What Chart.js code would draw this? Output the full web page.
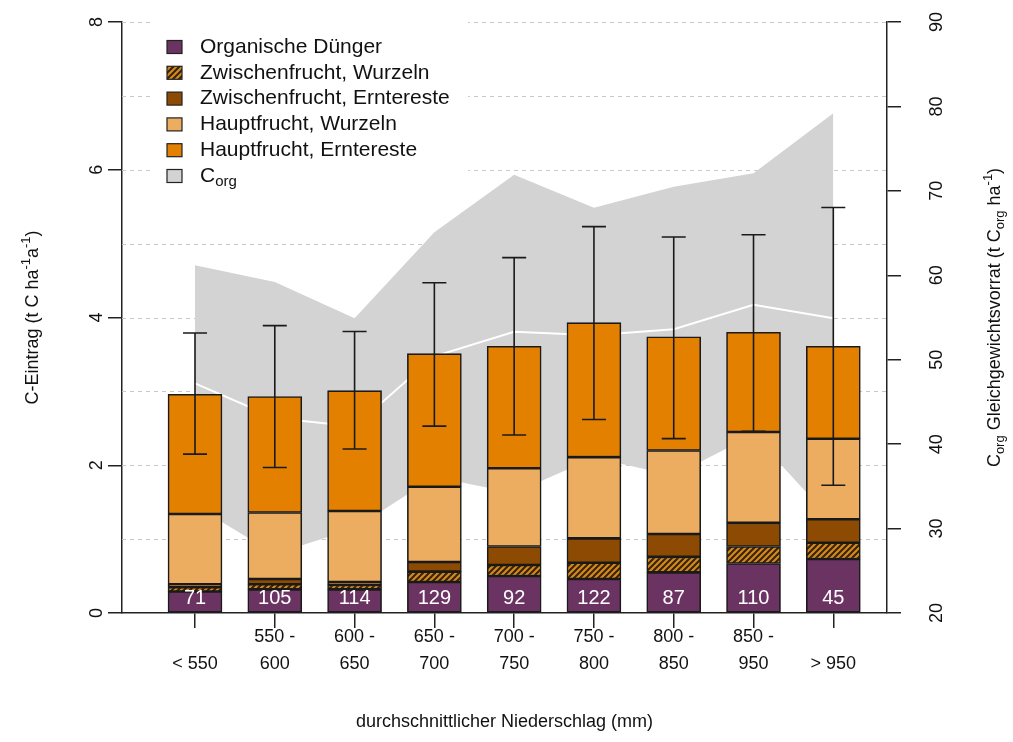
<!DOCTYPE html>
<html>
<head>
<meta charset="utf-8">
<script src="https://cdn.jsdelivr.net/npm/chart.js@4.4.1/dist/chart.umd.min.js"></script>
<style>
  html, body { margin: 0; padding: 0; background: #fff; }
  #wrap { width: 1013px; height: 742px; }
</style>
</head>
<body>
<div id="wrap"><canvas id="chart"></canvas></div>
<script>
// precipitation classes (two-line tick labels)
const categories = [
  ['', '< 550'], ['550 -', '600'], ['600 -', '650'], ['650 -', '700'], ['700 -', '750'],
  ['750 -', '800'], ['800 -', '850'], ['850 -', '950'], ['', '> 950']
];
const counts = [71, 105, 114, 129, 92, 122, 87, 110, 45];

// C input, t C ha-1 a-1 (stacked from bottom)
const organischeDuenger     = [0.29, 0.32, 0.32, 0.42, 0.50, 0.46, 0.55, 0.67, 0.73];
const zwischenWurzeln       = [0.06, 0.07, 0.06, 0.14, 0.15, 0.22, 0.21, 0.23, 0.22];
const zwischenErntereste    = [0.04, 0.07, 0.04, 0.13, 0.25, 0.33, 0.31, 0.32, 0.32];
const hauptWurzeln          = [0.95, 0.90, 0.96, 1.02, 1.06, 1.10, 1.13, 1.23, 1.09];
const hauptErntereste       = [1.62, 1.57, 1.63, 1.80, 1.65, 1.82, 1.54, 1.35, 1.25];

// error bars on total input
const errLow  = [2.15, 1.97, 2.22, 2.53, 2.41, 2.62, 2.36, 2.46, 1.73];
const errHigh = [3.79, 3.89, 3.81, 4.47, 4.81, 5.23, 5.09, 5.12, 5.49];

// Corg equilibrium stock, t Corg ha-1 (right axis)
const corgMax  = [61.2, 59.2, 54.9, 65.1, 71.9, 68.0, 70.5, 72.1, 79.2];
const corgMin  = [32.7, 27.0, 30.0, 36.1, 34.2, 38.4, 36.3, 41.1, 30.8];
const corgMean = [47.2, 43.1, 42.1, 50.4, 53.3, 52.9, 53.6, 56.5, 54.9];

const leftTicks = [0, 2, 4, 6, 8];
const rightTicks = [20, 30, 40, 50, 60, 70, 80, 90];

const FONT = '"Liberation Sans", Arial, sans-serif';
const AXIS = '#222';

function hatchPattern() {
  const c = document.createElement('canvas');
  c.width = 6; c.height = 6;
  const g = c.getContext('2d');
  g.fillStyle = '#cf8a22';
  g.fillRect(0, 0, 6, 6);
  g.strokeStyle = '#3b2000';
  g.lineWidth = 2;
  g.beginPath();
  g.moveTo(-1, 7); g.lineTo(7, -1);
  g.moveTo(-4, 4); g.lineTo(4, -4);
  g.moveTo(2, 10); g.lineTo(10, 2);
  g.stroke();
  return document.getElementById('chart').getContext('2d').createPattern(c, 'repeat');
}
const hatch = hatchPattern();

const colOrg = '#6b3361';
const colZE = '#8c4a03';
const colHW = '#edad60';
const colHE = '#e38000';
const colCorg = '#d3d3d3';

const pts = arr => arr.map((v, i) => ({ x: i, y: v }));

function barSet(label, values, color) {
  return {
    type: 'bar', label, data: pts(values), backgroundColor: color,
    borderColor: '#1a1a1a', borderWidth: 1.6, borderSkipped: false,
    barThickness: 54, stack: 'c', yAxisID: 'y', order: 0
  };
}

function richWidth(ctx, parts, size) {
  let w = 0;
  parts.forEach(p => {
    ctx.font = (p.s ? Math.round(size * 0.72) : size) + 'px ' + FONT;
    w += ctx.measureText(p.t).width;
  });
  return w;
}

function drawRich(ctx, parts, x, y, size, rot) {
  ctx.save();
  ctx.translate(x, y);
  ctx.rotate(rot);
  ctx.textBaseline = 'middle';
  ctx.textAlign = 'left';
  let cx = -richWidth(ctx, parts, size) / 2;
  parts.forEach(p => {
    ctx.font = (p.s ? Math.round(size * 0.72) : size) + 'px ' + FONT;
    const dy = p.s === 'sup' ? -size * 0.38 : p.s === 'sub' ? size * 0.3 : 0;
    ctx.fillText(p.t, cx, dy);
    cx += ctx.measureText(p.t).width;
  });
  ctx.restore();
}

const extras = {
  id: 'extras',
  beforeDatasetsDraw(chart) {
    const { ctx, chartArea, scales } = chart;
    ctx.save();
    ctx.strokeStyle = '#c9c9c9';
    ctx.lineWidth = 1;
    ctx.setLineDash([4, 4]);
    for (let v = 1; v <= 8; v++) {
      const y = Math.round(scales.y.getPixelForValue(v)) + 0.5;
      ctx.beginPath();
      ctx.moveTo(chartArea.left, y);
      ctx.lineTo(chartArea.right, y);
      ctx.stroke();
    }
    ctx.setLineDash([]);
    // white legend background hides the grid behind it
    ctx.fillStyle = '#fff';
    ctx.fillRect(150, 16, 318, 180);
    ctx.restore();
  },
  afterDatasetsDraw(chart) {
    const { ctx, scales } = chart;
    ctx.save();
    // error bars
    ctx.strokeStyle = '#1a1a1a';
    ctx.lineWidth = 1.6;
    errLow.forEach((lo, i) => {
      const x = scales.x.getPixelForValue(i);
      const y0 = scales.y.getPixelForValue(lo);
      const y1 = scales.y.getPixelForValue(errHigh[i]);
      ctx.beginPath();
      ctx.moveTo(x, y0); ctx.lineTo(x, y1);
      ctx.moveTo(x - 12, y0); ctx.lineTo(x + 12, y0);
      ctx.moveTo(x - 12, y1); ctx.lineTo(x + 12, y1);
      ctx.stroke();
    });
    // sample counts
    ctx.fillStyle = '#fff';
    ctx.font = '20px ' + FONT;
    ctx.textAlign = 'center';
    ctx.textBaseline = 'middle';
    counts.forEach((n, i) => {
      ctx.fillText(String(n), scales.x.getPixelForValue(i), scales.y.getPixelForValue(0.2));
    });
    ctx.restore();
  },
  afterDraw(chart) {
    const { ctx, scales, chartArea } = chart;
    ctx.save();
    ctx.fillStyle = '#111';
    ctx.font = '18px ' + FONT;
    ctx.textAlign = 'center';
    ctx.textBaseline = 'middle';
    // x tick labels
    categories.forEach((lines, i) => {
      const x = scales.x.getPixelForValue(i);
      ctx.fillText(lines[0], x, 637);
      ctx.fillText(lines[1], x, 664);
    });
    // y tick labels, rotated like the original
    leftTicks.forEach(v => {
      drawRich(ctx, [{ t: String(v) }], 97, scales.y.getPixelForValue(v), 18, -Math.PI / 2);
    });
    rightTicks.forEach(v => {
      drawRich(ctx, [{ t: String(v) }], 937, scales.y2.getPixelForValue(v), 18, -Math.PI / 2);
    });
    const midY = (chartArea.top + chartArea.bottom) / 2;
    drawRich(ctx, [{ t: 'C-Eintrag (t C ha' }, { t: '-1', s: 'sup' }, { t: 'a' }, { t: '-1', s: 'sup' }, { t: ')' }],
      33, midY, 18, -Math.PI / 2);
    drawRich(ctx, [{ t: 'C' }, { t: 'org', s: 'sub' }, { t: ' Gleichgewichtsvorrat (t C' }, { t: 'org', s: 'sub' },
      { t: ' ha' }, { t: '-1', s: 'sup' }, { t: ')' }], 995, midY, 18, -Math.PI / 2);
    drawRich(ctx, [{ t: 'durchschnittlicher Niederschlag (mm)' }], (chartArea.left + chartArea.right) / 2, 722, 18, 0);

    // legend
    const items = [
      { fill: colOrg, parts: [{ t: 'Organische Dünger' }] },
      { fill: hatch, parts: [{ t: 'Zwischenfrucht, Wurzeln' }] },
      { fill: colZE, parts: [{ t: 'Zwischenfrucht, Erntereste' }] },
      { fill: colHW, parts: [{ t: 'Hauptfrucht, Wurzeln' }] },
      { fill: colHE, parts: [{ t: 'Hauptfrucht, Erntereste' }] },
      { fill: colCorg, parts: [{ t: 'C' }, { t: 'org', s: 'sub' }] }
    ];
    const lsize = 21;
    items.forEach((it, k) => {
      const y = 47 + k * 25.8;
      ctx.fillStyle = it.fill;
      ctx.fillRect(167, y - 6.5, 15, 13);
      ctx.strokeStyle = '#222';
      ctx.lineWidth = 1.2;
      ctx.strokeRect(167, y - 6.5, 15, 13);
      ctx.fillStyle = '#111';
      const w = richWidth(ctx, it.parts, lsize);
      drawRich(ctx, it.parts, 200 + w / 2, y, lsize, 0);
    });
    ctx.restore();
  }
};

const yAxisCommon = {
  grid: { display: true, drawOnChartArea: false, drawTicks: true, tickLength: 14, color: AXIS, lineWidth: 1.5 },
  border: { display: true, color: AXIS, width: 1.5 },
  ticks: { display: false }
};

new Chart(document.getElementById('chart'), {
  type: 'bar',
  data: {
    datasets: [
      barSet('Organische Dünger', organischeDuenger, colOrg),
      barSet('Zwischenfrucht, Wurzeln', zwischenWurzeln, hatch),
      barSet('Zwischenfrucht, Erntereste', zwischenErntereste, colZE),
      barSet('Hauptfrucht, Wurzeln', hauptWurzeln, colHW),
      barSet('Hauptfrucht, Erntereste', hauptErntereste, colHE),
      {
        type: 'line', label: 'Corg max', data: pts(corgMax), yAxisID: 'y2', order: 20,
        borderColor: 'rgba(0,0,0,0)', backgroundColor: colCorg, pointRadius: 0, tension: 0, fill: '+1'
      },
      {
        type: 'line', label: 'Corg min', data: pts(corgMin), yAxisID: 'y2', order: 20,
        borderColor: 'rgba(0,0,0,0)', pointRadius: 0, tension: 0, fill: false
      },
      {
        type: 'line', label: 'Corg mean', data: pts(corgMean), yAxisID: 'y2', order: 10,
        borderColor: '#ffffff', borderWidth: 2, pointRadius: 0, tension: 0, fill: false
      }
    ]
  },
  options: {
    responsive: true,
    maintainAspectRatio: false,
    animation: false,
    devicePixelRatio: 1,
    layout: { padding: { top: 22, left: 0, right: 0, bottom: 0 } },
    plugins: { legend: { display: false }, tooltip: { enabled: false } },
    scales: {
      x: {
        type: 'linear', min: -0.915, max: 8.673, offset: false, stacked: true,
        afterBuildTicks: s => { s.ticks = categories.map((c, i) => ({ value: i })); },
        afterFit: s => { s.height = 129; },
        grid: { display: true, offset: false, drawOnChartArea: false, drawTicks: true, tickLength: 15, color: AXIS, lineWidth: 1.5 },
        border: { display: true, color: AXIS, width: 1.5 },
        ticks: { display: false }
      },
      y: {
        ...yAxisCommon, position: 'left', min: 0, max: 8, stacked: true,
        afterBuildTicks: s => { s.ticks = leftTicks.map(v => ({ value: v })); },
        afterFit: s => { s.width = 122; }
      },
      y2: {
        ...yAxisCommon, position: 'right', min: 20, max: 90,
        afterBuildTicks: s => { s.ticks = rightTicks.map(v => ({ value: v })); },
        afterFit: s => { s.width = 126; }
      }
    }
  },
  plugins: [extras]
});
</script>
</body>
</html>
